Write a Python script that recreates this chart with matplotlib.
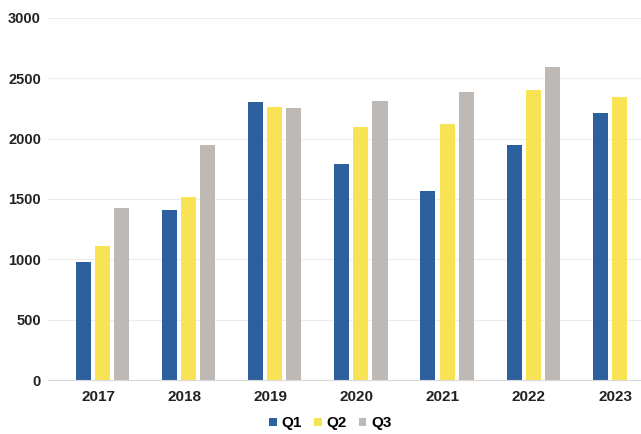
import matplotlib.pyplot as plt
import numpy as np

# data
years = ['2017', '2018', '2019', '2020', '2021', '2022', '2023']
q1 = [978, 1408, 2306, 1789, 1566, 1947, 2209]
q2 = [1110, 1519, 2259, 2093, 2121, 2402, 2342]
q3 = [1425, 1947, 2256, 2314, 2383, 2590, None]

colors = {'Q1': '#2b5f9e', 'Q2': '#f7e353', 'Q3': '#beb9b4'}


def main():
    fig = plt.figure(figsize=(6.41, 4.34), dpi=100)
    ax = fig.add_axes([48 / 641, 54 / 434, 1 - 48 / 641, (380 - 18) / 434])

    x = np.arange(len(years))
    step = 0.222
    width = 0.175
    series = [('Q1', q1), ('Q2', q2), ('Q3', q3)]
    for i, (name, vals) in enumerate(series):
        xs = [xi + (i - 1) * step for xi, v in zip(x, vals) if v is not None]
        ys = [v for v in vals if v is not None]
        ax.bar(xs, ys, width=width, color=colors[name], label=name, zorder=2)

    ax.set_xlim(-0.63, 6.25)
    ax.set_ylim(0, 3000)
    ax.set_yticks(range(0, 3001, 500))
    ax.set_xticks(x - 0.05)
    ax.set_xticklabels(years)
    ax.grid(axis='y', color='#ececec', linewidth=0.8, zorder=0)
    for s in ['top', 'right', 'left']:
        ax.spines[s].set_visible(False)
    ax.spines['bottom'].set_color('#d8d8d8')
    ax.tick_params(length=0, labelsize=10.5, colors='#222222')
    ax.tick_params(axis='x', pad=7, labelsize=11)
    ax.tick_params(axis='y', pad=5)
    for lab in ax.get_xticklabels() + ax.get_yticklabels():
        lab.set_fontweight('bold')
        lab.set_family('Liberation Sans')

    ax.legend(loc='center', bbox_to_anchor=(0.476, -0.12), ncol=3,
              frameon=False, handlelength=0.5, handleheight=0.5,
              handletextpad=0.3, columnspacing=0.8,
              prop={'weight': 'bold', 'size': 11, 'family': 'Liberation Sans'})

    fig.savefig('out.png', dpi=100)


if __name__ == "__main__":
    main()
